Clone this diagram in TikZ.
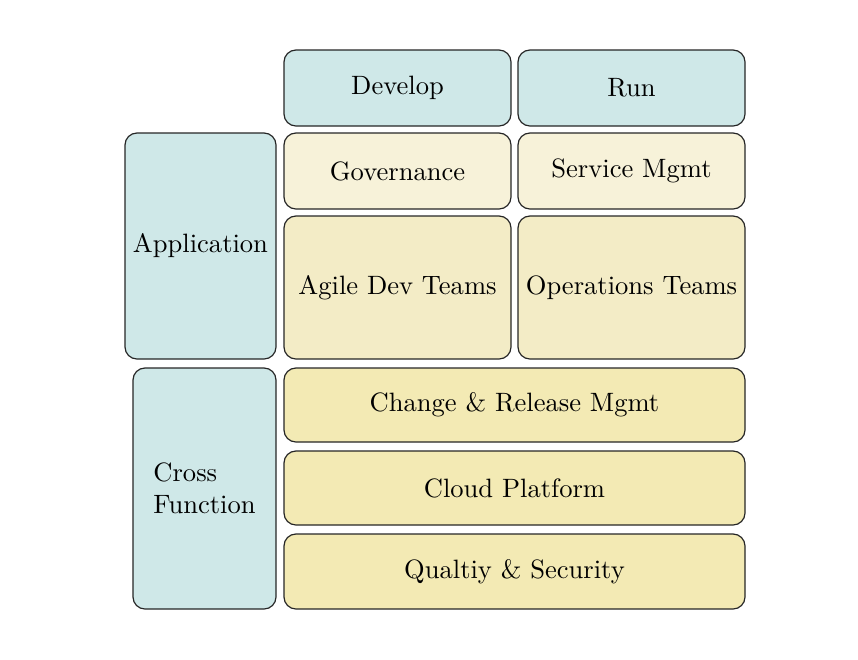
\documentclass[tikz,border=0pt]{standalone}
\usetikzlibrary{positioning}
\definecolor{tealbg}{HTML}{CFE8E8}
\definecolor{ylight}{HTML}{F7F2D9}
\definecolor{ymid}{HTML}{F3ECC6}
\definecolor{ydark}{HTML}{F3EAB4}
\def\u{0.3766pt}
\tikzset{
  blk/.style={draw=black!85, line width=0.45pt, rounded corners=4.5pt, inner sep=0pt, align=center},
  hd/.style={blk, fill=tealbg},
  yl/.style={blk, fill=ylight},
  ym/.style={blk, fill=ymid},
  yd/.style={blk, fill=ydark},
}
\begin{document}
\begin{tikzpicture}[x=0.3766pt, y=-0.3766pt]
\useasboundingbox (0,0) rectangle (858,660);
\node[hd, minimum width=227*\u, minimum height=76*\u] (dev) at (397.5,88) {Develop};
\node[hd, minimum width=227*\u, minimum height=76*\u] (run) at (631.5,88) {Run};
\node[hd, minimum width=151*\u, minimum height=226*\u] (app) at (200.5,246) {Application};
\node[yl, minimum width=227*\u, minimum height=76*\u] (gov) at (397.5,171) {Governance};
\node[yl, minimum width=227*\u, minimum height=76*\u] (svc) at (631.5,171) {Service Mgmt};
\node[ym, minimum width=227*\u, minimum height=143*\u] (agile) at (397.5,287.5) {Agile Dev Teams};
\node[ym, minimum width=227*\u, minimum height=143*\u] (ops) at (631.5,287.5) {Operations Teams};
\node[hd, minimum width=143*\u, minimum height=241*\u, align=left] (cross) at (204.5,488.5) {Cross\\Function};
\node[yd, minimum width=461*\u, minimum height=74*\u] (chg) at (514.5,405) {Change \& Release Mgmt};
\node[yd, minimum width=461*\u, minimum height=74*\u] (cloud) at (514.5,488) {Cloud Platform};
\node[yd, minimum width=461*\u, minimum height=75*\u] (qs) at (514.5,571.5) {Qualtiy \& Security};
\end{tikzpicture}
\end{document}
